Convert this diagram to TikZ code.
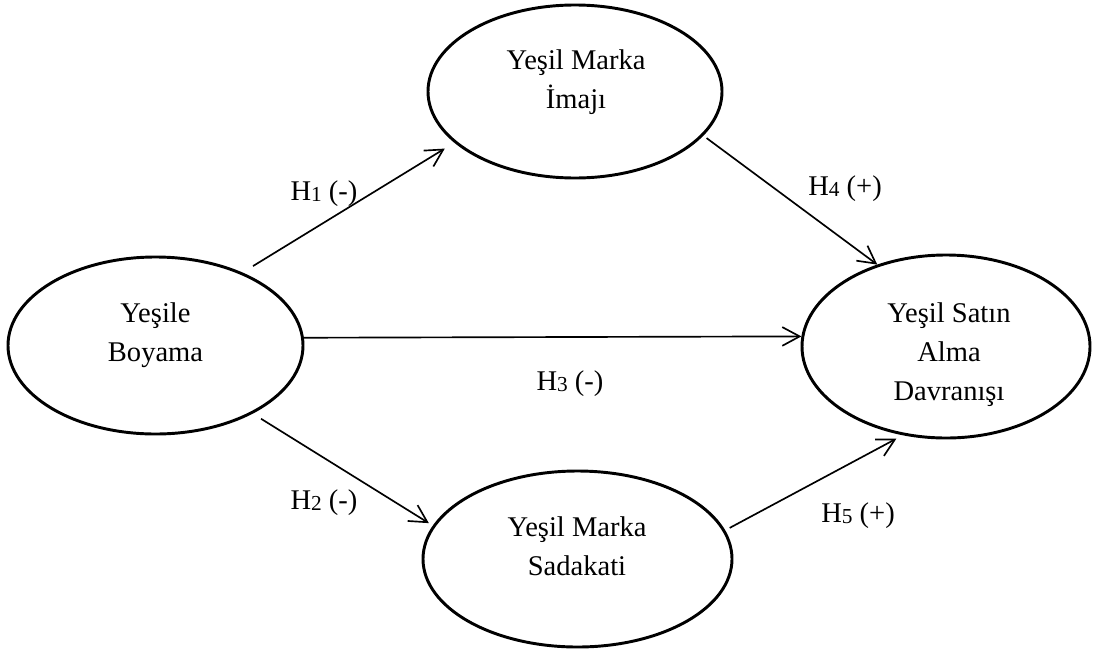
\documentclass[tikz,border=0pt]{standalone}
\usepackage{fontspec}
\setmainfont{Liberation Serif}
\usetikzlibrary{shapes.geometric,arrows.meta}
% small, slightly lowered index digit of a hypothesis label
\newcommand\hsub[1]{\raisebox{-1pt}{\fontsize{16}{16}\selectfont #1}}
\begin{document}
\begin{tikzpicture}[x=0.75pt,y=-0.75pt,
  construct/.style={ellipse,draw,line width=2.2pt,inner sep=0pt},
  caption/.style={font=\fontsize{21.4}{29.3}\selectfont,align=center,inner sep=0pt},
  link/.style={draw,line width=1.25pt,-{Straight Barb[length=13pt,width=14pt]}},
  hyp/.style={font=\fontsize{21.4}{25}\selectfont,inner sep=0pt,anchor=base}]
\useasboundingbox (0,0) rectangle (1094,650);

% constructs
\node[construct,minimum width=221.25pt,minimum height=132.75pt] (L) at (155.5,345.5) {};
\node[construct,minimum width=220.5pt,minimum height=129.75pt] (T) at (575,91.5) {};
\node[construct,minimum width=216pt,minimum height=137.25pt] (R) at (946,346.5) {};
\node[construct,minimum width=231.75pt,minimum height=132pt] (B) at (577.5,559) {};

% construct names
\node[caption] (Ltext) at (155.5,335.3) {Yeşile\\Boyama};
\node[caption] (Ttext) at (576,82.3) {Yeşil Marka\\İmajı};
\node[caption] (Rtext) at (949,354.3) {Yeşil Satın\\Alma\\Davranışı};
\node[caption] (Btext) at (577,545.8) {Yeşil Marka\\Sadakati};

% hypothesised paths
\draw[link,shorten <=9.2pt,shorten >=8.4pt] (L.40.4) -- (T.203.8);
\draw[link,shorten <=3pt] (T.341.76) -- (R.130.2);
\draw[link] (L.3.5) -- (R.176);
\draw[link,shorten <=7.3pt,shorten >=3.5pt] (L.325.25) -- (B.167.92);
\draw[link,shorten <=3.8pt,shorten >=5.4pt] (B.11.64) -- (R.244.28);

% hypothesis labels
\node[hyp] (h1) at (324,200) {H\hsub{1} (-)};
\node[hyp] (h4) at (845,195) {H\hsub{4} (+)};
\node[hyp] (h3) at (570,390) {H\hsub{3} (-)};
\node[hyp] (h2) at (324,509) {H\hsub{2} (-)};
\node[hyp] (h5) at (858,522) {H\hsub{5} (+)};
\end{tikzpicture}
\end{document}
